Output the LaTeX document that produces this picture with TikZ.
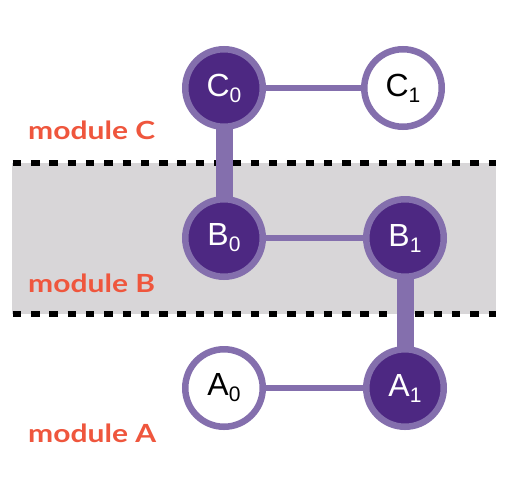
\documentclass[tikz,border=0pt]{standalone}
\usepackage{fontspec}
\setmainfont{Liberation Sans}
\newfontfamily\labelfont{Lato}
\usetikzlibrary{backgrounds}
\definecolor{dkpurple}{HTML}{4D2882}
\definecolor{ltpurple}{HTML}{846FAD}
\definecolor{bandgray}{HTML}{D8D6D8}
\definecolor{modred}{HTML}{EF563D}
\tikzset{
  qubit/.style={circle, draw=ltpurple, line width=6.5pt, minimum size=77.5pt, inner sep=0pt, outer sep=0pt},
  darkq/.style={qubit, fill=dkpurple, text=white},
  lightq/.style={qubit, fill=white, text=black},
  thinlink/.style={draw=ltpurple, line width=6.5pt},
  thicklink/.style={draw=ltpurple, line width=17pt},
  modlabel/.style={anchor=base west, inner sep=0pt, text=modred, font=\labelfont\bfseries\fontsize{25}{25}\selectfont},
  sepline/.style={draw=black, line width=6pt, dash pattern=on 8.5pt off 9.8pt}
}
\newcommand{\qlabel}[2]{\fontsize{32}{32}\selectfont #1\raisebox{-6pt}{\fontsize{21}{21}\selectfont #2}}
\newcommand{\wide}[1]{\scalebox{1.2}[1]{#1}}
\begin{document}
\begin{tikzpicture}[x=1pt,y=-1pt]
  \useasboundingbox (0,0) rectangle (508,477);
  \node[darkq]  (c0) at (224,88)  {\qlabel{C}{0}};
  \node[lightq] (c1) at (403,88)  {\qlabel{C}{1}};
  \node[darkq]  (b0) at (224,238) {\qlabel{B}{0}};
  \node[darkq]  (b1) at (405,238) {\qlabel{B}{1}};
  \node[lightq] (a0) at (224,388) {\qlabel{A}{0}};
  \node[darkq]  (a1) at (405,388) {\qlabel{A}{1}};
  \begin{scope}[on background layer]
    \fill[white] (0,0) rectangle (508,477);
    \fill[bandgray] (12,163) rectangle (496,313.7);
    \coordinate (t0) at (12.7,163);
    \coordinate (t1) at (496,163);
    \coordinate (u0) at (12.7,313.7);
    \coordinate (u1) at (496,313.7);
    \draw[sepline] (t0) -- (t1);
    \draw[sepline] (u0) -- (u1);
    \draw[thinlink] (c0.center) -- (c1.center);
    \draw[thinlink] (b0.center) -- (b1.center);
    \draw[thinlink] (a0.center) -- (a1.center);
    \draw[thicklink] (c0.center) -- (b0.center);
    \draw[thicklink] (b1.center) -- (a1.center);
  \end{scope}
  \node[modlabel] (lc) at (28,139) {\wide{module C}};
  \node[modlabel] (lb) at (28,292) {\wide{module B}};
  \node[modlabel] (la) at (28,442) {\wide{module A}};
\end{tikzpicture}
\end{document}
